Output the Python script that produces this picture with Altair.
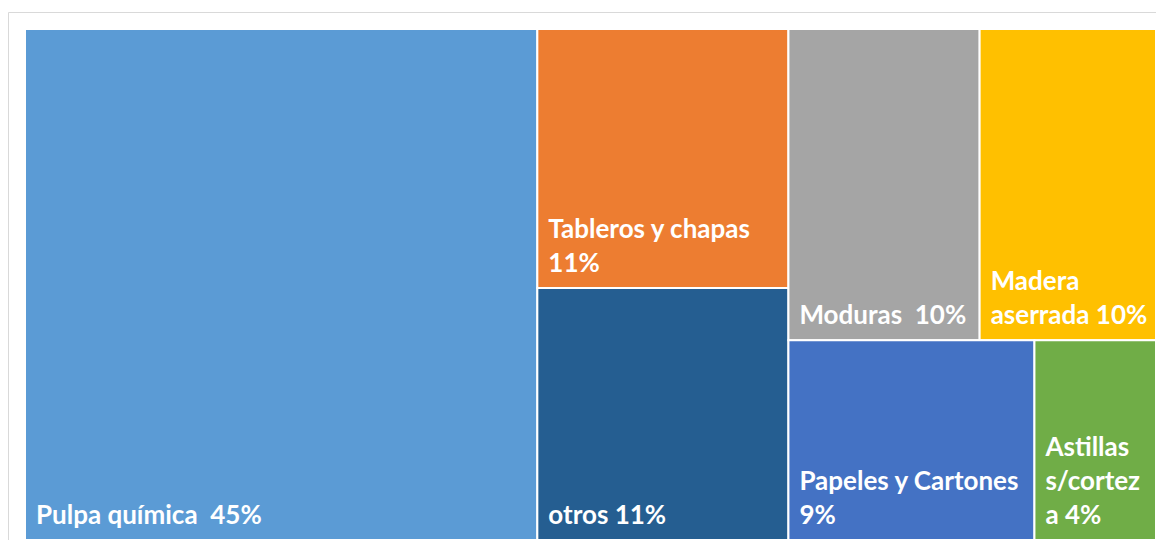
import altair as alt
import pandas as pd

categories = ["Pulpa química", "Tableros y chapas", "otros", "Moduras",
              "Madera aserrada", "Papeles y Cartones", "Astillas s/corteza"]
shares = [45.3, 11.25, 10.95, 10.3, 9.5, 8.5, 4.2]
labels = ["Pulpa química \u00a045%", "Tableros y chapas\n11%", "otros 11%", "Moduras \u00a010%",
          "Madera\naserrada 10%", "Papeles y Cartones\n9%", "Astillas\ns/cortez\na 4%"]
colors = ["#5B9BD5", "#ED7D31", "#255E91", "#A5A5A5", "#FFC000", "#4472C4", "#70AD47"]

W, H = 1131, 511
LINE_H = 34


def worst(row, side):
    s = sum(row)
    return max(max(side * side * r / (s * s), s * s / (side * side * r)) for r in row)


def squarify(vals, x, y, w, h):
    out = []
    vals = list(vals)
    while vals:
        side = min(w, h)
        row = [vals[0]]
        i = 1
        while i < len(vals) and worst(row + [vals[i]], side) <= worst(row, side):
            row.append(vals[i])
            i += 1
        vals = vals[i:]
        s = sum(row)
        if w >= h:
            rw = s / h
            yy = y
            for r in row:
                rh = r / rw
                out.append((x, x + rw, yy, yy + rh))
                yy += rh
            x += rw
            w -= rw
        else:
            rh = s / w
            xx = x
            for r in row:
                rw = r / rh
                out.append((xx, xx + rw, y, y + rh))
                xx += rw
            y += rh
            h -= rh
    return out


total = sum(shares)
areas = [v / total * W * H for v in shares]
rects = squarify(areas, 0, 0, W, H)

df = pd.DataFrame({
    "categoria": categories,
    "valor": shares,
    "label": labels,
    "x0": [r[0] for r in rects],
    "x1": [r[1] for r in rects],
    "y0": [r[2] for r in rects],
    "y1": [r[3] for r in rects],
})
# anchor of the first label line so the last line sits at the rectangle's bottom
df["ytext"] = df["y1"] - (df["label"].str.count("\n")) * LINE_H

xs = alt.Scale(domain=[0, W], nice=False, zero=False)
ys = alt.Scale(domain=[0, H], nice=False, zero=False, reverse=True)

color = alt.Color("categoria:N", scale=alt.Scale(domain=categories, range=colors), legend=None)

frame = alt.Chart(alt.Data(values=[{"a": 1}])).mark_rect(
    fill=None, stroke="#D9D9D9", strokeWidth=1
).encode(
    x=alt.value(-16.5), x2=alt.value(1400),
    y=alt.value(-16.5), y2=alt.value(800)
)

rect = alt.Chart(df).mark_rect(stroke="white", strokeWidth=2).encode(
    x=alt.X("x0:Q", scale=xs, axis=None),
    x2="x1:Q",
    y=alt.Y("y0:Q", scale=ys, axis=None),
    y2="y1:Q",
    color=color,
    tooltip=["categoria", "valor"],
)

text = alt.Chart(df).mark_text(
    align="left", baseline="bottom", dx=11, dy=-11,
    lineBreak="\n", lineHeight=LINE_H, font="Lato", fontWeight="bold",
    fontSize=26, color="white"
).encode(
    x=alt.X("x0:Q", scale=xs, axis=None),
    y=alt.Y("ytext:Q", scale=ys, axis=None),
    text="label:N",
)

chart = alt.layer(frame, rect, text).properties(
    width=W, height=H,
    autosize=alt.AutoSizeParams(type="none"),
    padding={"left": 17, "top": 21, "right": 0, "bottom": 0},
).configure_view(stroke=None)

chart.save("out.html", embed_options={"renderer": "svg", "actions": False})
